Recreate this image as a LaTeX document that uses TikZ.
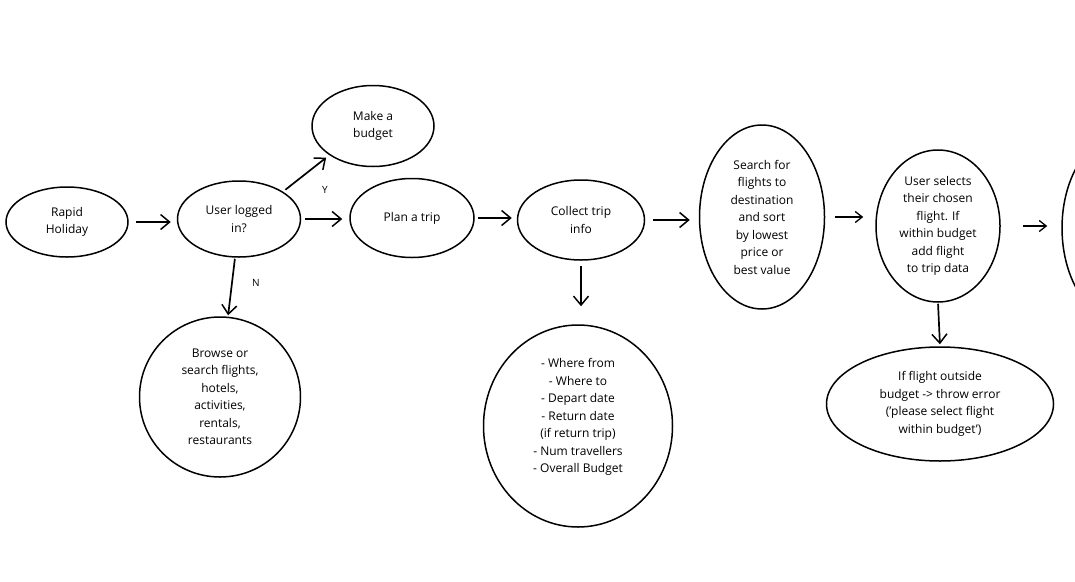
\documentclass[tikz,border=0pt]{standalone}
\usepackage{fontspec}
\setmainfont{Open Sans}
\usetikzlibrary{shapes.geometric,arrows.meta}
\begin{document}
\begin{tikzpicture}[x=1pt,y=-1pt,
  blob/.style={draw,ellipse,line width=1.5pt,inner sep=0pt,align=center,
    font=\fontsize{12}{17.5}\selectfont},
  flow/.style={line width=1.7pt,-{Straight Barb[length=9pt,width=15pt,line width=1.5pt]}},
  thinflow/.style={line width=1.4pt,-{Straight Barb[length=7pt,width=11pt,line width=1.3pt]}},
  tag/.style={font=\fontsize{10}{12}\selectfont}]
\useasboundingbox (0,0) rectangle (1075,581);
\fill[white] (0,0) rectangle (1075,581);

% process steps
\node[blob,minimum width=122pt,minimum height=70pt] (rapid) at (67,222) {Rapid\\Holiday};
\node[blob,minimum width=123pt,minimum height=76pt] (user) at (239,219) {User logged\\in?};
\node[blob,minimum width=122pt,minimum height=81pt] (budget) at (373,126) {Make a\\budget};
\node[blob,minimum width=124pt,minimum height=79pt] (plan) at (412,218) {Plan a trip};
\node[blob,minimum width=127pt,minimum height=80pt] (collect) at (581,220) {Collect trip\\info};
\node[blob,minimum width=189pt,minimum height=202pt] (tripinfo) at (578,426)
  {- Where from\\- Where to\\- Depart date\\- Return date\\(if return trip)\\- Num travellers\\- Overall Budget\\[3pt]\mbox{}};
\node[blob,minimum width=161pt,minimum height=160pt] (browse) at (220,397)
  {Browse or\\search flights,\\hotels,\\activities,\\rentals,\\restaurants};
\node[blob,minimum width=125pt,minimum height=184pt] (search) at (762,217)
  {Search for\\flights to\\destination\\and sort\\by lowest\\price or\\best value};
\node[blob,minimum width=124pt,minimum height=152pt] (select) at (938,226)
  {User selects\\their chosen\\flight. If\\within budget\\add flight\\to trip data};
\node[blob,minimum width=227pt,minimum height=114pt] (error) at (940,404)
  {If flight outside\\budget -> throw error\\('please select flight\\within budget')};
\begin{scope}
  \clip (0,0) rectangle (1075,581);
  \node[blob,minimum width=126pt,minimum height=190pt] (next) at (1125,228) {};
\end{scope}

% connectors
\draw[flow,shorten <=7pt,shorten >=6pt] (rapid.east) -- (rapid.east -| user.west);
\draw[flow,shorten <=4pt,shorten >=7pt] (user.east) -- (user.east -| plan.west);
\draw[flow,shorten <=3pt,shorten >=4pt] (user.north east) -- (budget.south west);
\draw[flow,shorten <=1pt,shorten >=1pt] ([xshift=-4pt]user.south) -- ([xshift=8pt]browse.north);
\draw[flow,shorten <=3pt,shorten >=5pt] (plan.east) -- (plan.east -| collect.west);
\draw[flow,shorten <=5pt,shorten >=18pt] (collect.south) -- (collect.south |- tripinfo.north);
\draw[flow,shorten <=8pt,shorten >=9pt] (collect.east) -- (collect.east -| search.west);
\draw[thinflow,shorten <=10pt,shorten >=12pt] (search.east) -- (search.east -| select.west);
\draw[flow,shorten <=1pt,shorten >=2pt] (select.south) -- (error.north);
\draw[thinflow,shorten <=22pt,shorten >=14pt] (select.east) -- (select.east -| next.west);

% branch labels
\node[tag] (yes) at (325,190) {Y};
\node[tag] (no) at (256,283) {N};
\end{tikzpicture}
\end{document}
